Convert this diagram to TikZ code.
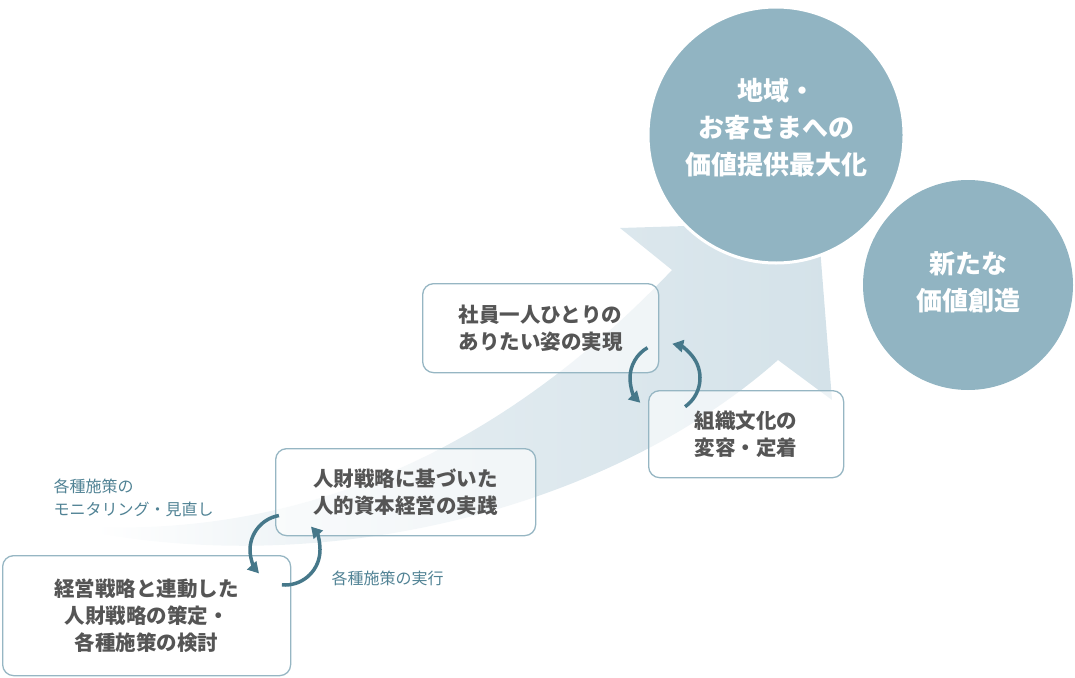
\documentclass[tikz,border=0pt]{standalone}
\usepackage{fontspec}
\setmainfont{Noto Sans CJK JP}
\usetikzlibrary{arrows.meta,shadings,calc}
\definecolor{teal-c}{RGB}{145, 180, 194}
\definecolor{box-b}{RGB}{150, 182, 195}
\definecolor{cyc}{RGB}{70, 120, 138}
\definecolor{txt}{RGB}{85, 85, 85}
\definecolor{lbl}{RGB}{80, 130, 148}
\definecolor{flow}{RGB}{212, 226, 233}

\begin{document}
\begin{tikzpicture}[x=1pt,y=-1pt]

\tikzset{stage/.style={draw=box-b, line width=1.3, rounded corners=11, fill=white, fill opacity=0.6,
  text opacity=1, text=txt, font=\bfseries\fontsize{20.5}{27}\selectfont, align=center, anchor=north west}}
\tikzset{goal/.style={circle, fill=teal-c}}
\tikzset{goaltext/.style={text=white, font=\bfseries\fontsize{26}{37}\selectfont, align=center}}
\tikzset{note/.style={text=lbl, font=\fontsize{16}{23}\selectfont, align=left, anchor=north west}}
\tikzset{cycle/.style={cyc, line width=3.5, -{Triangle[length=11,width=12]}}}

\useasboundingbox (0,0) rectangle (1075,677);

% big arrow
\shade[left color=white, right color=flow, middle color=flow!70!white]
 (95,527) .. controls (330,535) and (520,430) .. (672,270) -- (620,228) -- (818,222)
 -- (832,400) -- (778,360) .. controls (620,500) and (350,578) .. (95,533) -- cycle;

% circles
\node[goal, minimum size=210] (fresh) at (968,285) {};
\node[goal, draw=white, line width=3, minimum size=256] (value) at (776,135) {};
\node[goaltext] (valuet) at (776,128) {地域・\\お客さまへの\\価値提供最大化};
\node[goaltext] (freshT) at (968,282) {新たな\\価値創造};

% stages
\node[stage, minimum width=288, minimum height=120] (plan) at (2,555) {経営戦略と連動した\\人財戦略の策定・\\各種施策の検討};
\node[stage, minimum width=260, minimum height=87] (act) at (275,448) {人財戦略に基づいた\\人的資本経営の実践};
\node[stage, minimum width=236, minimum height=89] (self) at (422,283) {社員一人ひとりの\\ありたい姿の実現};
\node[stage, minimum width=195, minimum height=87] (culture) at (648,390) {組織文化の\\変容・定着};

% notes
\node[note] (monitor) at (50,475) {各種施策の\\モニタリング・見直し};
\node[note] (run) at (328,567) {各種施策の実行};

% cycles
\coordinate (c1) at (285,550);
\coordinate (c2) at (665,378);
\draw[cycle] ($(c1)+(-100:35)$) arc[start angle=-100, end angle=-222, radius=35];
\draw[cycle] ($(c1)+(95:35)$) arc[start angle=95, end angle=-42, radius=35];
\draw[cycle] ($(c2)+(-120:35)$) arc[start angle=-120, end angle=-225, radius=35];
\draw[cycle] ($(c2)+(55:35)$) arc[start angle=55, end angle=-78, radius=35];

\end{tikzpicture}
\end{document}
